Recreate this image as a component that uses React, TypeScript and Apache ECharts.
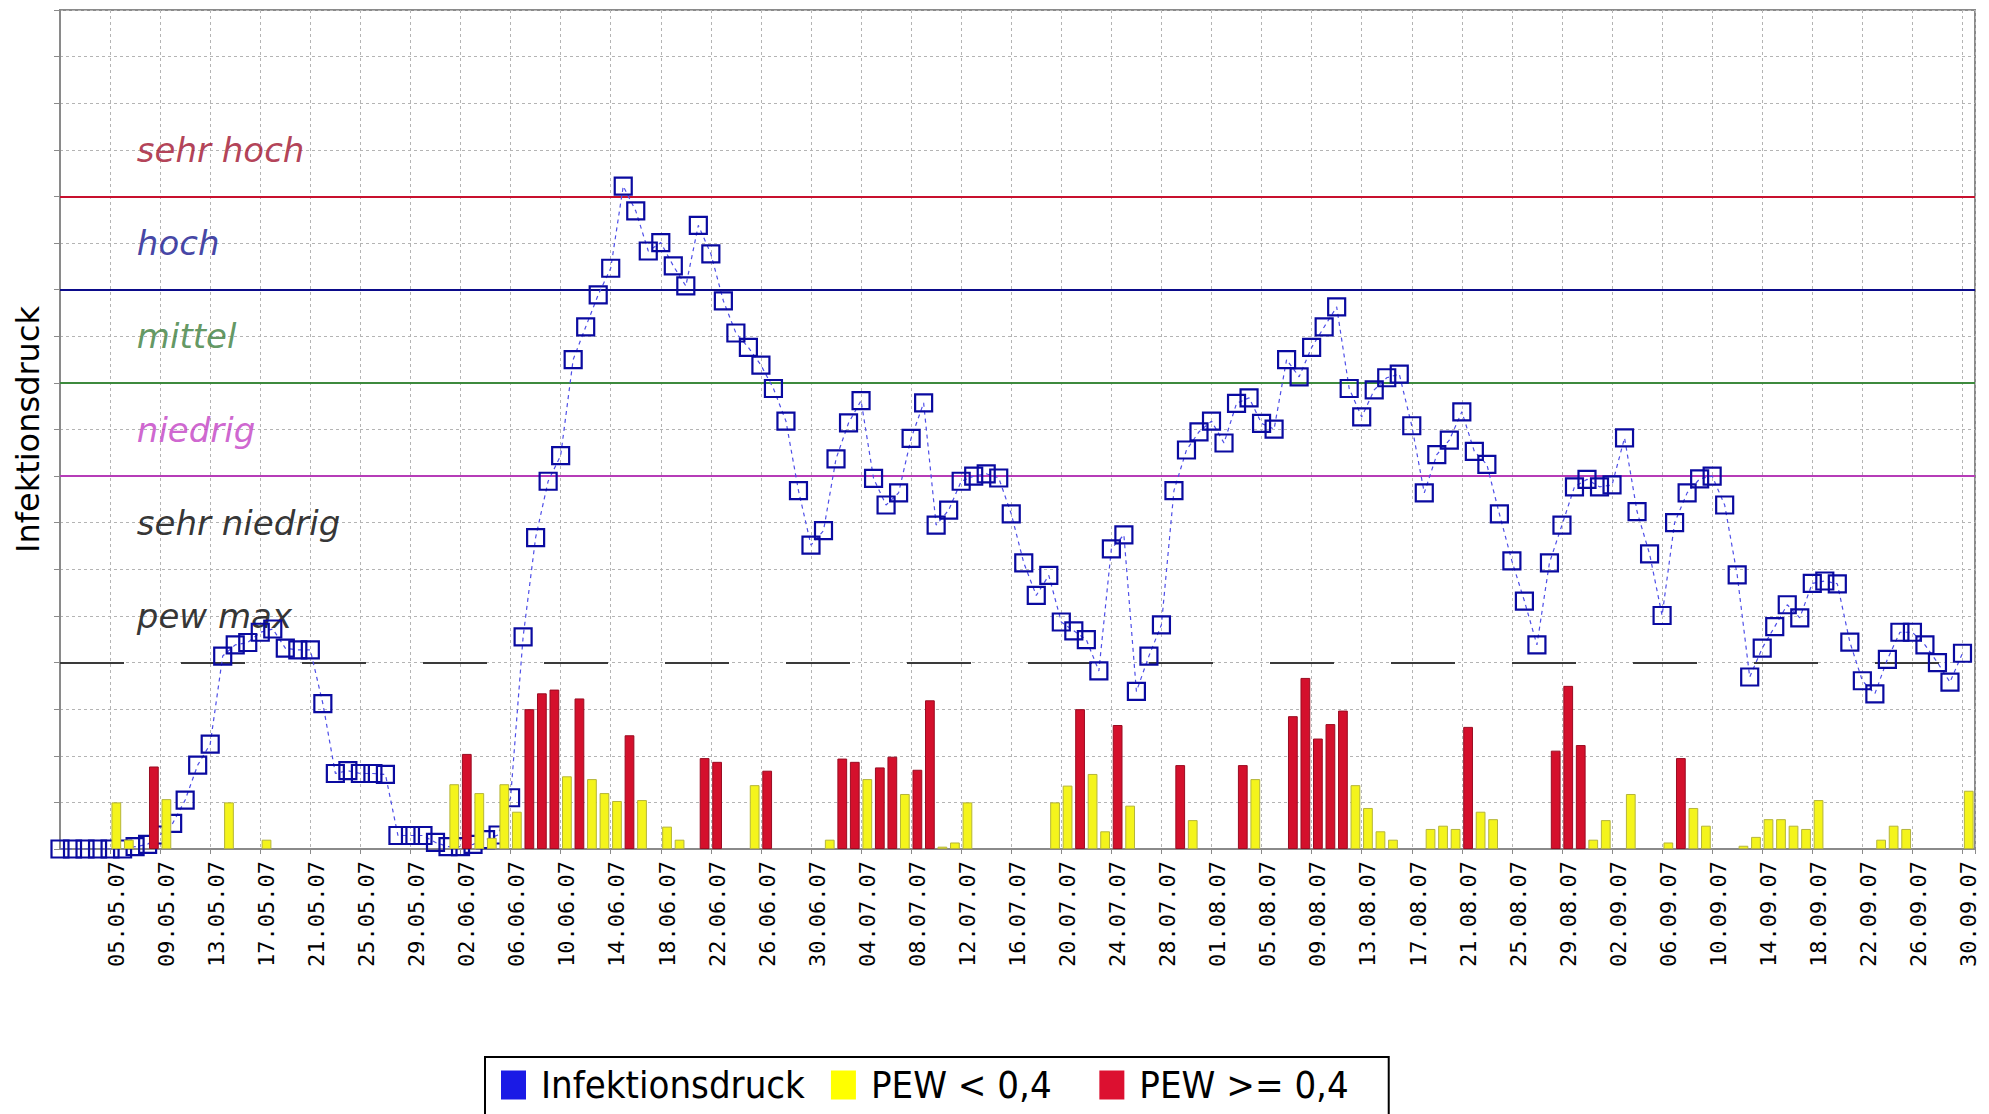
import React, { useEffect, useRef } from 'react';
import * as echarts from 'echarts';

// ---------- categories (one per day, 01.05.07 – 30.09.07) ----------
const DAY_COUNT = 153;
function buildDays(): string[] {
  const out: string[] = [];
  for (let i = 0; i < DAY_COUNT; i++) {
    const d = new Date(2007, 4, 1 + i);
    const dd = String(d.getDate()).padStart(2, '0');
    const mm = String(d.getMonth() + 1).padStart(2, '0');
    out.push(`${dd}.${mm}.07`);
  }
  return out;
}
const days = buildDays();

// ---------- Infektionsdruck (blue squares), per month ----------
const infektionsdruckMai = [0, 0, 0, 0, 0, 0, 0.05, 0.1, 0.3, 0.55, 1.05, 1.8, 2.25, 4.14, 4.38, 4.43, 4.65, 4.72, 4.31, 4.27, 4.27, 3.12, 1.62, 1.68, 1.62, 1.62, 1.6, 0.29, 0.29, 0.29, 0.14];
const infektionsdruckJuni = [0.05, 0.05, 0.1, 0.2, 0.3, 1.1, 4.55, 6.68, 7.89, 8.44, 10.5, 11.2, 11.89, 12.46, 14.22, 13.69, 12.83, 13.01, 12.51, 12.08, 13.38, 12.77, 11.76, 11.07, 10.76, 10.38, 9.88, 9.18, 7.69, 6.52];
const infektionsdruckJuli = [6.83, 8.37, 9.14, 9.62, 7.95, 7.38, 7.64, 8.81, 9.57, 6.95, 7.27, 7.89, 8.0, 8.05, 7.96, 7.19, 6.14, 5.44, 5.87, 4.87, 4.68, 4.49, 3.82, 6.44, 6.74, 3.38, 4.14, 4.81, 7.69, 8.56, 8.95];
const infektionsdruckAugust = [9.18, 8.71, 9.56, 9.68, 9.13, 9.01, 10.5, 10.13, 10.76, 11.2, 11.63, 9.88, 9.27, 9.85, 10.11, 10.19, 9.08, 7.64, 8.46, 8.77, 9.38, 8.53, 8.25, 7.19, 6.18, 5.32, 4.38, 6.14, 6.95, 7.77, 7.93];
const infektionsdruckSeptember = [7.77, 7.81, 8.82, 7.24, 6.33, 5.01, 7.0, 7.64, 7.94, 8.0, 7.38, 5.88, 3.69, 4.31, 4.77, 5.24, 4.96, 5.7, 5.75, 5.69, 4.44, 3.61, 3.33, 4.07, 4.65, 4.65, 4.38, 4.0, 3.58, 4.2];

// ---------- PEW < 0,4 (yellow bars), per month ----------
const pewGelbMai = [0, 0, 0, 0, 1.0, 0.2, 0, 0, 1.07, 0, 0, 0, 0, 1.0, 0, 0, 0.2, 0, 0, 0, 0, 0, 0, 0, 0, 0, 0, 0, 0, 0, 0];
const pewGelbJuni = [1.39, 0, 1.2, 0.24, 1.39, 0.8, 0, 0, 0, 1.56, 0, 1.5, 1.2, 1.03, 0, 1.05, 0, 0.48, 0.2, 0, 0, 0, 0, 0, 1.37, 0, 0, 0, 0, 0];
const pewGelbJuli = [0.2, 0, 0, 1.5, 0, 0, 1.18, 0, 0, 0.05, 0.14, 1.0, 0, 0, 0, 0, 0, 0, 1.0, 1.36, 0, 1.61, 0.38, 0, 0.93, 0, 0, 0, 0, 0.62, 0];
const pewGelbAugust = [0, 0, 0, 1.5, 0, 0, 0, 0, 0, 0, 0, 1.37, 0.88, 0.38, 0.2, 0, 0, 0.43, 0.5, 0.43, 0, 0.8, 0.64, 0, 0, 0, 0, 0, 0, 0, 0.2];
const pewGelbSeptember = [0.62, 0, 1.18, 0, 0, 0.14, 0, 0.88, 0.5, 0, 0, 0.07, 0.26, 0.64, 0.64, 0.5, 0.43, 1.05, 0, 0, 0, 0, 0.2, 0.5, 0.43, 0, 0, 0, 0, 1.25];

// ---------- PEW >= 0,4 (red bars), per month ----------
const pewRotMai = [0, 0, 0, 0, 0, 0, 0, 1.77, 0, 0, 0, 0, 0, 0, 0, 0, 0, 0, 0, 0, 0, 0, 0, 0, 0, 0, 0, 0, 0, 0, 0];
const pewRotJuni = [0, 2.04, 0, 0, 0, 0, 3.0, 3.34, 3.42, 0, 3.23, 0, 0, 0, 2.44, 0, 0, 0, 0, 0, 1.95, 1.87, 0, 0, 0, 1.68, 0, 0, 0, 0];
const pewRotJuli = [0, 1.94, 1.87, 0, 1.75, 1.98, 0, 1.7, 3.19, 0, 0, 0, 0, 0, 0, 0, 0, 0, 0, 0, 3.0, 0, 0, 2.66, 0, 0, 0, 0, 1.8, 0, 0];
const pewRotAugust = [0, 0, 1.8, 0, 0, 0, 2.85, 3.67, 2.37, 2.68, 2.97, 0, 0, 0, 0, 0, 0, 0, 0, 0, 2.62, 0, 0, 0, 0, 0, 0, 2.11, 3.5, 2.23, 0];
const pewRotSeptember = [0, 0, 0, 0, 0, 0, 1.95, 0, 0, 0, 0, 0, 0, 0, 0, 0, 0, 0, 0, 0, 0, 0, 0, 0, 0, 0, 0, 0, 0, 0];

// ---------- thresholds and band labels ----------
const thresholdValues = [14, 12, 10, 8];
const thresholdColors = ['#c8102e', '#0b0b8a', '#3d8a3d', '#b63cb8'];
const pewMaxValue = 4;
const bandLabels = ['sehr hoch', 'hoch', 'mittel', 'niedrig', 'sehr niedrig', 'pew max'];
const bandLabelValues = [15, 13, 11, 9, 7, 5];
const bandLabelColors = ['#a0102c', '#14148e', '#3b7d3b', '#c23ec4', '#000000', '#000000'];
const bandLabelDay = '07.05.07';

// ---------- series names (legend) ----------
const nameInfektion = 'Infektionsdruck';
const nameGelb = 'PEW < 0,4\u00a0\u00a0';
const nameRot = 'PEW >= 0,4';

const infektionsdruck = [...infektionsdruckMai, ...infektionsdruckJuni, ...infektionsdruckJuli, ...infektionsdruckAugust, ...infektionsdruckSeptember];
const pewGelb = [...pewGelbMai, ...pewGelbJuni, ...pewGelbJuli, ...pewGelbAugust, ...pewGelbSeptember];
const pewRot = [...pewRotMai, ...pewRotJuni, ...pewRotJuli, ...pewRotAugust, ...pewRotSeptember];

const labelInterval = (index: number) => index > 0 && index % 4 === 0;
const GRID = '#b4b4b4';
const AXIS = '#8a8a8a';

export default function App() {
  const ref = useRef<HTMLDivElement>(null);
  useEffect(() => {
    if (!ref.current) return;
    const chart = echarts.init(ref.current, undefined, { renderer: 'svg' });
    const option: any = {
      animation: false,
      backgroundColor: '#ffffff',
      grid: {
        left: 60, right: 14, top: 10, bottom: 265,
        show: true, borderColor: AXIS, borderWidth: 2, backgroundColor: '#ffffff',
      },
      legend: {
        left: 485, top: 1057, orient: 'horizontal',
        borderColor: '#000', borderWidth: 2, padding: [9, 40, 40, 16],
        itemGap: 26, itemWidth: 25, itemHeight: 29, selectedMode: false,
        textStyle: {
          fontFamily: '"DejaVu Sans Condensed", "Liberation Sans Narrow", "DejaVu Sans", sans-serif',
          fontSize: 38, color: '#000', padding: [0, 0, 0, 10],
        },
        data: [
          { name: nameInfektion, icon: 'rect', itemStyle: { color: '#1a1ae6', borderWidth: 0 } },
          { name: nameGelb, icon: 'rect', itemStyle: { color: '#ffff00', borderWidth: 0 } },
          { name: nameRot, icon: 'rect', itemStyle: { color: '#dc1030', borderWidth: 0 } },
        ],
      },
      xAxis: [
        {
          type: 'category', data: days, boundaryGap: true,
          axisLine: { lineStyle: { color: AXIS, width: 2 } },
          axisTick: { show: true, length: 5, interval: labelInterval, lineStyle: { color: AXIS } },
          axisLabel: {
            interval: labelInterval, rotate: 90, margin: 12,
            fontFamily: '"DejaVu Sans Mono", monospace', fontSize: 22, color: '#000',
          },
          splitLine: { show: true, interval: labelInterval, lineStyle: { color: GRID, width: 1, type: [3, 3] } },
        },
        {
          type: 'category', data: [...days, ''], boundaryGap: false, show: false,
        },
      ],
      yAxis: {
        type: 'value', min: 0, max: 18, interval: 1,
        name: 'Infektionsdruck', nameLocation: 'middle', nameGap: 16,
        nameTextStyle: { fontFamily: '"DejaVu Sans", sans-serif', fontSize: 32, color: '#000' },
        axisLabel: { show: false },
        axisTick: { show: true, length: 6, lineStyle: { color: AXIS } },
        axisLine: { show: true, lineStyle: { color: AXIS, width: 2 } },
        splitLine: { show: true, lineStyle: { color: GRID, width: 1, type: [3, 3] } },
      },
      series: [
        {
          name: 'bands', type: 'scatter', xAxisIndex: 0, silent: true, z: 1,
          symbolSize: 1, itemStyle: { color: 'rgba(0,0,0,0)' },
          data: bandLabels.map((n, k) => ({
            name: n, value: [bandLabelDay, bandLabelValues[k]],
            label: { color: bandLabelColors[k] },
          })),
          label: {
            show: true, position: 'right', distance: 0, offset: [-5, 0],
            fontFamily: '"DejaVu Sans", sans-serif', fontStyle: 'italic', fontSize: 34,
            formatter: (p: any) => p.name,
          },
          markLine: {
            silent: true, symbol: 'none', label: { show: false }, z: 1,
            data: [
              ...thresholdValues.map((v, k) => ({ yAxis: v, lineStyle: { color: thresholdColors[k], width: 2, type: 'solid' } })),
              { yAxis: pewMaxValue, lineStyle: { color: '#3a3a3a', width: 2, type: [64, 57] } },
            ],
          },
        },
        {
          name: nameInfektion, type: 'line', xAxisIndex: 1, z: 3,
          data: infektionsdruck,
          symbol: 'rect', symbolSize: 17, showAllSymbol: true,
          itemStyle: { color: 'rgba(0,0,0,0)', borderColor: '#0a0aa0', borderWidth: 2.2 },
          lineStyle: { color: '#4e4ee8', width: 1.2, type: [4, 4] },
        },
        {
          name: nameGelb, type: 'bar', stack: 'pew', xAxisIndex: 0, z: 4, barWidth: '78%',
          data: pewGelb.map(v => (v ? v : null)),
          itemStyle: { color: '#f4f41c', borderColor: '#b5b53a', borderWidth: 1 },
        },
        {
          name: nameRot, type: 'bar', stack: 'pew', xAxisIndex: 0, z: 4, barWidth: '78%',
          data: pewRot.map(v => (v ? v : null)),
          itemStyle: { color: '#d4102c', borderColor: '#9a0c22', borderWidth: 1 },
        },
      ],
    };
    chart.setOption(option);
    return () => chart.dispose();
  }, []);
  return (
    <div
      ref={ref}
      style={{ position: 'fixed', left: 0, top: 0, width: 1989, height: 1114, background: '#fff' }}
    />
  );
}
